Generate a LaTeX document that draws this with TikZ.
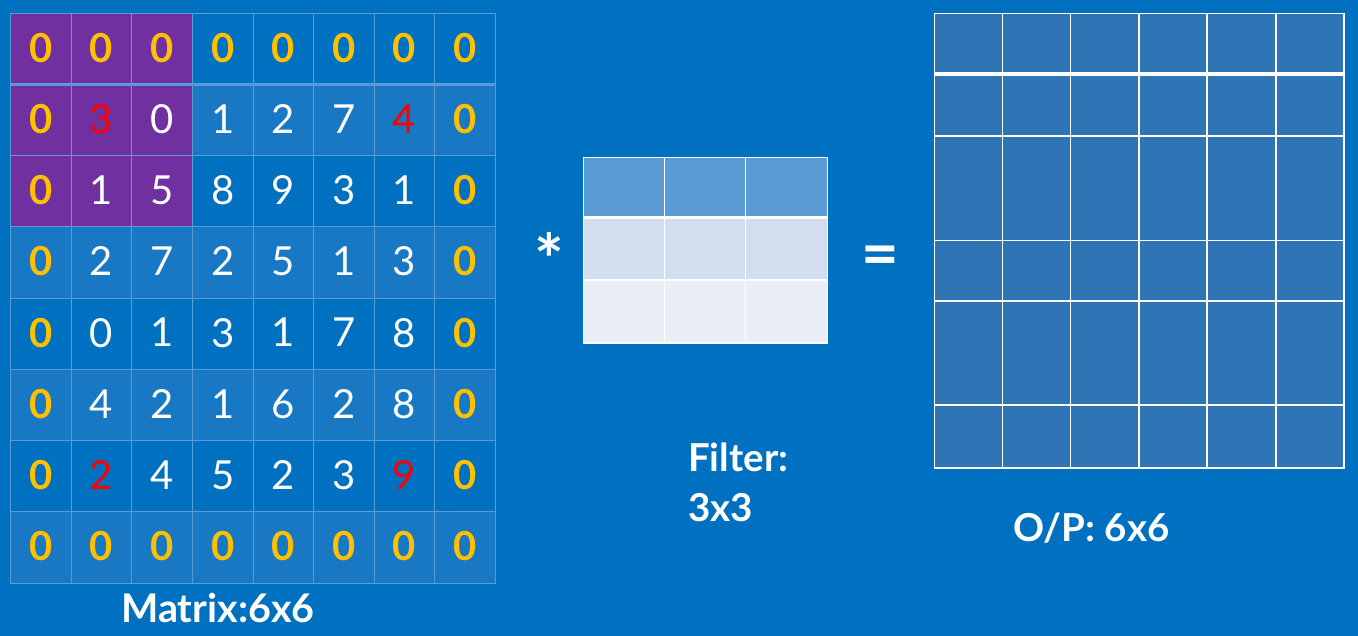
\documentclass[tikz,border=0pt]{standalone}
\usepackage{fontspec}
\setmainfont{Lato}
\usepackage{xcolor}
\usetikzlibrary{positioning}
\definecolor{bgblue}{HTML}{0070C0}
\definecolor{rowblue}{HTML}{1878C4}
\definecolor{gridblue}{HTML}{5B9BD5}
\definecolor{padpurple}{HTML}{7030A0}
\definecolor{padgold}{HTML}{FFC000}
\definecolor{hotred}{HTML}{FF0000}
\definecolor{outblue}{HTML}{2E75B6}
\definecolor{filtA}{HTML}{5B9BD5}
\definecolor{filtB}{HTML}{D2DEEF}
\definecolor{filtC}{HTML}{EAEFF7}

\begin{document}
\begin{tikzpicture}[
    x=1pt,y=-1pt,
    cell/.style={draw=gridblue,line width=0.8pt,minimum width=60.6pt,minimum height=71.25pt,inner sep=0pt,outer sep=0pt,font=\fontsize{40}{40}\selectfont},
    lbl/.style={text=white,font=\bfseries\fontsize{38.5}{50}\selectfont,inner sep=0pt},
    opsym/.style={text=white,font=\bfseries\fontsize{#1}{#1}\selectfont,inner sep=0pt},
    wline/.style={white,line width=1.2pt}
]
\fill[bgblue] (0,0) rectangle (1358,636);

% padded input matrix
\foreach \vals [count=\r from 0] in {{0,0,0,0,0,0,0,0},{0,3,0,1,2,7,4,0},{0,1,5,8,9,3,1,0},{0,2,7,2,5,1,3,0},{0,0,1,3,1,7,8,0},{0,4,2,1,6,2,8,0},{0,2,4,5,2,3,9,0},{0,0,0,0,0,0,0,0}}{
  \foreach \v [count=\c from 0] in \vals {
    \pgfmathtruncatemacro\pad{or(or(\r==0,\r==7),or(\c==0,\c==7))}
    \pgfmathtruncatemacro\hot{and(or(\r==1,\r==6),or(\c==1,\c==6))}
    \pgfmathtruncatemacro\purp{and(\r<3,\c<3)}
    \pgfmathtruncatemacro\odd{mod(\r,2)}
    \ifnum\purp=1 \def\cellfill{padpurple}\else\ifnum\odd=1 \def\cellfill{rowblue}\else\def\cellfill{bgblue}\fi\fi
    \ifnum\pad=1 \def\celltext{padgold}\def\cellfont{\bfseries}\else\ifnum\hot=1 \def\celltext{hotred}\def\cellfont{}\else\def\celltext{white}\def\cellfont{}\fi\fi
    \node[cell,fill=\cellfill,text=\celltext,text depth=2pt] (m-\r-\c) at ({40.8+60.6*\c},{48.6+71.25*\r}) {\cellfont\v};
  }
}
\draw[gridblue,line width=3pt] (m-0-0.south west) -- (m-0-7.south east);

% filter
\foreach \ya/\yb/\col in {157.3/217.7/filtA,217.7/280/filtB,280/343/filtC}
  \fill[\col] (583.3,\ya) rectangle (827.3,\yb);
\foreach \x in {664.3,745.3}
  \draw[wline] (\x,157.3) -- (\x,343);
\draw[wline] (583.3,280) -- (827.3,280);
\draw[white,line width=3.5pt] (583.3,217.7) -- (827.3,217.7);
\draw[wline] (583.3,157.3) rectangle (827.3,343);

% output
\fill[outblue] (934.3,13.3) rectangle (1344,468);
\foreach \x in {1002.3,1070.3,1139,1207,1276}
  \draw[wline] (\x,13.3) -- (\x,468);
\foreach \y in {136,240.7,301,405}
  \draw[wline] (934.3,\y) -- (1344,\y);
\draw[white,line width=4pt] (934.3,73.8) -- (1344,73.8);
\draw[wline] (934.3,13.3) rectangle (1344,468);

% labels
\node[lbl,anchor=base,font=\bfseries\fontsize{39.5}{50}\selectfont] (mlabel) at (218,622) {Matrix:6x6};
\node[lbl,anchor=north west,align=left] (flabel) at (688,443) {Filter:\\3x3};
\node[lbl,anchor=base west] (olabel) at (1013,541) {O/P: 6x6};
\node[opsym=70] (conv) at (549.5,259) {*};
\node[opsym=65] (eq) at (880.5,261) {=};
\end{tikzpicture}
\end{document}
